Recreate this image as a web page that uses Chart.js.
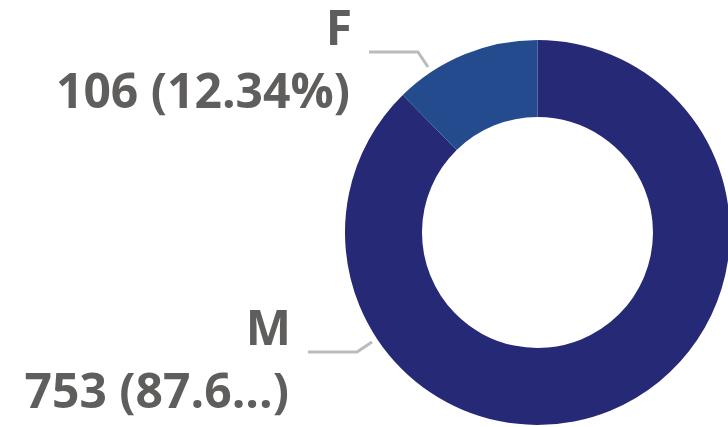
<!DOCTYPE html>
<html>
<head>
<meta charset="utf-8">
<script src="https://cdn.jsdelivr.net/npm/chart.js@4.4.1/dist/chart.umd.min.js"></script>
<style>
  html, body { margin: 0; padding: 0; background: #fff; overflow: hidden; }
  #boite { width: 732px; height: 427px; position: relative; }
</style>
</head>
<body>
<div id="boite"><canvas id="donut"></canvas></div>
<script>
// données
const categories = ["M", "F"];
const effectifs = [753, 106];
const etiquettesValeurs = ["753 (87.6...)", "106 (12.34%)"];
const couleurs = ["#262A76", "#234B8E"];

// angle (degrés, sens canvas) où part chaque trait de rappel
const anglesRappel = [146.5, 236.5];

const grisTexte = "#605E5C";
const grisTrait = "#BBBBBB";
const police = "'Open Sans', 'Noto Sans', sans-serif";

// plugin pour les étiquettes avec trait de rappel
const etiquettes = {
  id: "etiquettes",
  afterDatasetsDraw(chart) {
    const ctx = chart.ctx;
    const arcs = chart.getDatasetMeta(0).data;
    ctx.save();
    for (let i = 0; i < arcs.length; i++) {
      const p = arcs[i].getProps(["x", "y", "outerRadius"], true);
      const a = anglesRappel[i] * Math.PI / 180;
      const cx = Math.cos(a), cy = Math.sin(a);
      const r1 = p.outerRadius + 6;
      const x1 = p.x + cx * r1, y1 = p.y + cy * r1;
      const x2 = x1 + cx * 18, y2 = y1 + cy * 18;
      const x3 = x2 - 49;
      ctx.strokeStyle = grisTrait;
      ctx.lineWidth = 3;
      ctx.beginPath();
      ctx.moveTo(x1, y1);
      ctx.lineTo(x2, y2);
      ctx.lineTo(x3, y2);
      ctx.stroke();

      ctx.fillStyle = grisTexte;
      ctx.font = "700 48px " + police;
      ctx.textAlign = "right";
      ctx.textBaseline = "alphabetic";
      ctx.fillText(categories[i], x3 - 17, y2 - 7);
      ctx.fillText(etiquettesValeurs[i], x3 - 19, y2 + 56);
    }
    ctx.restore();
  }
};

new Chart(document.getElementById("donut"), {
  type: "doughnut",
  data: {
    labels: categories,
    datasets: [{
      data: effectifs,
      backgroundColor: couleurs,
      borderWidth: 0
    }]
  },
  options: {
    responsive: true,
    maintainAspectRatio: false,
    animation: false,
    cutout: "60%",
    layout: { padding: { left: 345, right: 2, top: 40, bottom: 2 } },
    plugins: {
      legend: { display: false },
      tooltip: { enabled: false }
    }
  },
  plugins: [etiquettes]
});
</script>
</body>
</html>
